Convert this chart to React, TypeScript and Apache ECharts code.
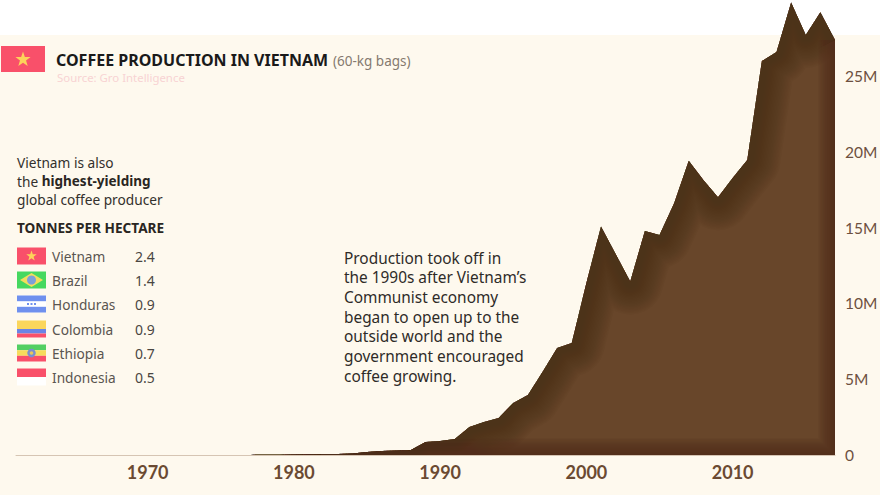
import React, { useEffect, useRef } from "react";
import * as echarts from "echarts";

const years = Array.from({ length: 57 }, (_, i) => String(1961 + i));
// Million 60-kg bags, 1961-2017
const production = [
  0.001, 0.001, 0.001, 0.001, 0.001, 0.002, 0.002, 0.002, 0.002, 0.003,
  0.003, 0.003, 0.004, 0.004, 0.005, 0.006, 0.008, 0.01, 0.015, 0.03,
  0.05, 0.06, 0.07, 0.1, 0.2, 0.26, 0.3, 0.33, 0.85, 0.92,
  1.05, 1.85, 2.18, 2.44, 3.43, 3.96, 5.47, 7.05, 7.38, 11.34,
  15.07, 13.25, 11.44, 14.77, 14.5, 16.6, 19.4, 18.13, 17.0, 18.26,
  19.45, 25.98, 26.57, 29.83, 27.7, 29.2, 27.36,
];
const countries = ["Vietnam", "Brazil", "Honduras", "Colombia", "Ethiopia", "Indonesia"];
const yields = ["2.4", "1.4", "0.9", "0.9", "0.7", "0.5"];

const FONT = "'Noto Sans', sans-serif";
const AXIS_FONT = "Lato, sans-serif";

function star(cx: number, cy: number, r: number, fill: string) {
  const points: number[][] = [];
  for (let i = 0; i < 10; i++) {
    const rad = i % 2 === 0 ? r : r * 0.4;
    const a = -Math.PI / 2 + (i * Math.PI) / 5;
    points.push([cx + rad * Math.cos(a), cy + rad * Math.sin(a)]);
  }
  return { type: "polygon", shape: { points }, style: { fill } };
}
function rect(x: number, y: number, width: number, height: number, fill: string) {
  return { type: "rect", shape: { x, y, width, height }, style: { fill } };
}
function text(x: number, y: number, t: string, fontSize: number, fill: string, fontWeight: any = "normal", extra: any = {}) {
  return {
    type: "text",
    x,
    y,
    style: { text: t, fontSize, fill, fontWeight, fontFamily: FONT, verticalAlign: "middle", ...extra },
  };
}

function flag(i: number, x: number, y: number): any[] {
  const w = 29, h = 17;
  switch (i) {
    case 0:
      return [rect(x, y, w, h, "#f9506a"), star(x + w / 2, y + h / 2, 5.5, "#fdd25a")];
    case 1:
      return [
        rect(x, y, w, h, "#46d85f"),
        { type: "polygon", shape: { points: [[x + 3, y + h / 2], [x + w / 2, y + 1.5], [x + w - 3, y + h / 2], [x + w / 2, y + h - 1.5]] }, style: { fill: "#f2de5c" } },
        { type: "circle", shape: { cx: x + w / 2, cy: y + h / 2, r: 4.5 }, style: { fill: "#7d9fd8" } },
      ];
    case 2:
      return [
        rect(x, y, w, h, "#ffffff"),
        rect(x, y, w, 5.7, "#6f90ee"),
        rect(x, y + 11.3, w, 5.7, "#6f90ee"),
        rect(x + 10, y + 7.5, 2, 2, "#6f90ee"),
        rect(x + 13.5, y + 7.5, 2, 2, "#6f90ee"),
        rect(x + 17, y + 7.5, 2, 2, "#6f90ee"),
      ];
    case 3:
      return [rect(x, y, w, 8.5, "#fbd65c"), rect(x, y + 8.5, w, 4.5, "#6a84e6"), rect(x, y + 13, w, 4, "#f9506a")];
    case 4:
      return [
        rect(x, y, w, 5.7, "#52cf62"),
        rect(x, y + 5.7, w, 5.6, "#f7dc5c"),
        rect(x, y + 11.3, w, 5.7, "#f9506a"),
        { type: "circle", shape: { cx: x + w / 2, cy: y + h / 2, r: 4.2 }, style: { fill: "#7a8ed0" } },
        { type: "circle", shape: { cx: x + w / 2, cy: y + h / 2, r: 1.8 }, style: { fill: "#e8c65c" } },
      ];
    default:
      return [rect(x, y, w, 8.5, "#f9506a"), rect(x, y + 8.5, w, 8.5, "#ffffff")];
  }
}

const rowY = [256, 280, 304, 329, 353, 377];
const noteLines = [
  "Production took off in",
  "the 1990s after Vietnam\u2019s",
  "Communist economy",
  "began to open up to the",
  "outside world and the",
  "government encouraged",
  "coffee growing.",
];

function shadeLayers(points: number[][], count: number, maxWidth: number, opacity: number) {
  const layers: any[] = [];
  for (let i = 1; i <= count; i++) {
    layers.push({
      type: "polyline",
      shape: { points },
      style: {
        fill: "none",
        stroke: "#4e3219",
        lineWidth: maxWidth * Math.pow(i / count, 1.1),
        opacity,
        lineJoin: "round",
      },
    });
  }
  return layers;
}

function renderShade(params: any, api: any) {
  if (params.dataIndex !== 0) return null;
  const pts = production.map((v, i) => api.coord([i, v]));
  const [x0] = pts[0];
  const last = pts[pts.length - 1];
  const [, base] = api.coord([0, 0]);
  const outline = [[x0, base], ...pts, [last[0], base]];
  const edge = [last, [last[0], base], [x0, base]];
  return {
    type: "group",
    clipPath: { type: "polygon", shape: { points: outline } },
    children: [...shadeLayers(pts, 24, 66, 0.08), ...shadeLayers(edge, 14, 34, 0.11)],
  };
}

export default function App() {
  const ref = useRef<HTMLDivElement>(null);
  useEffect(() => {
    if (!ref.current) return;
    const chart = echarts.init(ref.current, undefined, { renderer: "svg" });
    const graphics: any[] = [
      { ...rect(0, 35, 880, 460, "#fef9ee"), z: -1 },
      rect(1, 46, 44, 26, "#f9506a"),
      star(23, 59.5, 8, "#fdd25a"),
      text(56, 59.5, "COFFEE PRODUCTION IN VIETNAM", 16, "#1a1a1a", "bold", { lineHeight: 16 }),
      text(333, 61, "(60-kg bags)", 13.5, "#85796f", "normal", { lineHeight: 14 }),
      text(57, 77.5, "Source: Gro Intelligence", 11.4, "#f8d3d3", "normal", { lineHeight: 12 }),
      text(17, 162, "Vietnam is also", 13.7, "#33302c"),
      text(17, 181, "the {b|highest-yielding}", 13.7, "#33302c", "normal", {
        rich: { b: { fontWeight: "bold", fontSize: 13.5, fontFamily: FONT, fill: "#2a2622" } },
      }),
      text(17, 199, "global coffee producer", 13.7, "#33302c"),
      text(17, 227, "TONNES PER HECTARE", 13.6, "#2a2622", "bold"),
    ];
    countries.forEach((c, i) => {
      graphics.push(...flag(i, 17, rowY[i] - 8.5));
      graphics.push(text(52, rowY[i], c, 13.7, "#5a5550"));
      graphics.push(text(135, rowY[i], yields[i], 14, "#4a4642"));
    });
    noteLines.forEach((l, i) => {
      graphics.push(text(344, 258 + i * 19.7, l, 15.4, "#2e2b28"));
    });

    chart.setOption({
      animation: false,
      backgroundColor: "#ffffff",
      graphic: graphics,
      grid: { left: 16, top: 0, width: 819, height: 455, containLabel: false, outerBoundsMode: "none" },
      xAxis: {
        type: "category",
        data: years,
        boundaryGap: false,
        z: 5,
        axisLine: { show: true, lineStyle: { color: "#d6c5b3", width: 1 } },
        axisTick: { show: false },
        splitLine: { show: false },
        axisLabel: {
          interval: (_: number, v: string) => Number(v) % 10 === 0,
          fontFamily: AXIS_FONT,
          fontWeight: "bold",
          fontSize: 18,
          color: "#6b4a32",
          margin: 8,
        },
      },
      yAxis: {
        type: "value",
        position: "right",
        min: 0,
        max: 30,
        interval: 5,
        axisLine: { show: false },
        axisTick: { show: false },
        splitLine: { show: false },
        axisLabel: {
          fontFamily: AXIS_FONT,
          fontSize: 15.5,
          color: "#6d5040",
          margin: 10,
          showMaxLabel: false,
          formatter: (v: number) => (v === 0 ? "0" : v === 30 ? "" : `${v}M`),
        },
      },
      series: [
        {
          type: "line",
          name: "Coffee production",
          data: production,
          symbol: "none",
          lineStyle: { width: 0 },
          areaStyle: { color: "#68462a", opacity: 1 },
          z: 2,
          clip: false,
        },
        {
          type: "custom",
          data: production.map((v, i) => [i, v]),
          encode: { x: 0, y: 1 },
          renderItem: renderShade,
          silent: true,
          z: 3,
        },
      ],
    });
    return () => chart.dispose();
  }, []);
  return <div ref={ref} style={{ position: "absolute", left: 0, top: 0, width: 880, height: 495 }} />;
}
